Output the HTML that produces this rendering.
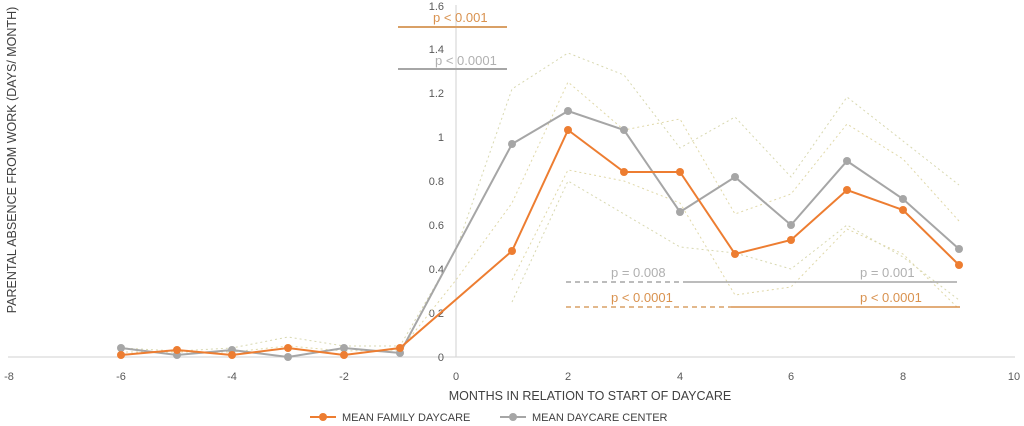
<!DOCTYPE html><html><head><style>body{margin:0;background:#fff}svg{display:block}text{font-family:"Liberation Sans",sans-serif}</style></head><body>
<svg width="1024" height="426" viewBox="0 0 1024 426">
<g stroke="#d9d9d9" stroke-width="1.2"><line x1="8" y1="357" x2="1015" y2="357"/><line x1="456" y1="5" x2="456" y2="357"/></g>
<g font-size="11" fill="#595959" text-anchor="end">
<text x="444" y="361">0</text><text x="444" y="317">0.2</text><text x="444" y="273">0.4</text><text x="444" y="229">0.6</text><text x="444" y="185">0.8</text><text x="444" y="141">1</text><text x="444" y="97">1.2</text><text x="444" y="53">1.4</text><text x="444" y="10">1.6</text></g>
<g font-size="11" fill="#595959" text-anchor="middle">
<text x="9" y="380">-8</text><text x="121" y="380">-6</text><text x="232" y="380">-4</text><text x="344" y="380">-2</text><text x="456" y="380">0</text><text x="568" y="380">2</text><text x="680" y="380">4</text><text x="791" y="380">6</text><text x="903" y="380">8</text><text x="1014" y="380">10</text></g>
<text x="590" y="400" font-size="12.5" fill="#404040" text-anchor="middle">MONTHS IN RELATION TO START OF DAYCARE</text>
<text transform="translate(16,160) rotate(-90)" font-size="12.5" fill="#404040" text-anchor="middle">PARENTAL ABSENCE FROM WORK (DAYS/ MONTH)</text>
<g fill="none" stroke-dasharray="2,3" stroke-width="1">
<polyline stroke="#d8d8b0" points="121,348 177,351 232,348 288,337 344,346 400,346 456,250 512,89 568,53 624,75 680,148 735,117 791,177 847,97 903,141 959,185"/>
<polyline stroke="#e0d8a8" points="121,352 177,352 232,352 288,346 344,351 400,350 456,280 512,203 568,82 624,130 680,119 735,214 791,194 847,124 903,159 959,221"/>
<polyline stroke="#e0d8a8" points="512,280 568,170 624,181 680,203 735,295 791,287 847,229 903,254 959,309"/>
<polyline stroke="#d8d8b0" points="512,302 568,181 624,214 680,247 735,253 791,269 847,225 903,257 959,300"/>
</g>
<polyline fill="none" stroke="#a6a6a6" stroke-width="2" points="121,348 177,355 232,350 288,357 344,348 400,353 512,144 568,111 624,130 680,212 735,177 791,225 847,161 903,199 959,249"/>
<g fill="#a6a6a6"><circle cx="121" cy="348" r="4"/><circle cx="177" cy="355" r="4"/><circle cx="232" cy="350" r="4"/><circle cx="288" cy="357" r="4"/><circle cx="344" cy="348" r="4"/><circle cx="400" cy="353" r="4"/><circle cx="512" cy="144" r="4"/><circle cx="568" cy="111" r="4"/><circle cx="624" cy="130" r="4"/><circle cx="680" cy="212" r="4"/><circle cx="735" cy="177" r="4"/><circle cx="791" cy="225" r="4"/><circle cx="847" cy="161" r="4"/><circle cx="903" cy="199" r="4"/><circle cx="959" cy="249" r="4"/></g>
<polyline fill="none" stroke="#ed7d31" stroke-width="2" points="121,355 177,350 232,355 288,348 344,355 400,348 512,251 568,130 624,172 680,172 735,254 791,240 847,190 903,210 959,265"/>
<g fill="#ed7d31"><circle cx="121" cy="355" r="4"/><circle cx="177" cy="350" r="4"/><circle cx="232" cy="355" r="4"/><circle cx="288" cy="348" r="4"/><circle cx="344" cy="355" r="4"/><circle cx="400" cy="348" r="4"/><circle cx="512" cy="251" r="4"/><circle cx="568" cy="130" r="4"/><circle cx="624" cy="172" r="4"/><circle cx="680" cy="172" r="4"/><circle cx="735" cy="254" r="4"/><circle cx="791" cy="240" r="4"/><circle cx="847" cy="190" r="4"/><circle cx="903" cy="210" r="4"/><circle cx="959" cy="265" r="4"/></g>
<line x1="398" y1="27" x2="507" y2="27" stroke="#d9a066" stroke-width="2"/>
<text x="433" y="22" font-size="13" fill="#d9924f">p &lt; 0.001</text>
<line x1="398" y1="69" x2="507" y2="69" stroke="#a6a6a6" stroke-width="2"/>
<text x="435" y="65" font-size="13" fill="#b0b0b0">p &lt; 0.0001</text>
<line x1="566" y1="282" x2="684" y2="282" stroke="#a6a6a6" stroke-width="1.5" stroke-dasharray="5,4"/>
<line x1="684" y1="282" x2="957" y2="282" stroke="#a6a6a6" stroke-width="1.5"/>
<text x="611" y="277" font-size="13" fill="#b0b0b0">p = 0.008</text>
<text x="860" y="277" font-size="13" fill="#b0b0b0">p = 0.001</text>
<line x1="566" y1="307" x2="731" y2="307" stroke="#d9a066" stroke-width="1.5" stroke-dasharray="5,4"/>
<line x1="731" y1="307" x2="960" y2="307" stroke="#d9924f" stroke-width="1.5"/>
<text x="611" y="302" font-size="13" fill="#d9924f">p &lt; 0.0001</text>
<text x="860" y="302" font-size="13" fill="#d9924f">p &lt; 0.0001</text>
<line x1="310" y1="417" x2="336" y2="417" stroke="#ed7d31" stroke-width="2"/><circle cx="323" cy="417" r="4" fill="#ed7d31"/>
<text x="342" y="421" font-size="11" fill="#404040">MEAN FAMILY DAYCARE</text>
<line x1="500" y1="417" x2="526" y2="417" stroke="#a6a6a6" stroke-width="2"/><circle cx="513" cy="417" r="4" fill="#a6a6a6"/>
<text x="532" y="421" font-size="11" fill="#404040">MEAN DAYCARE CENTER</text>
</svg></body></html>
